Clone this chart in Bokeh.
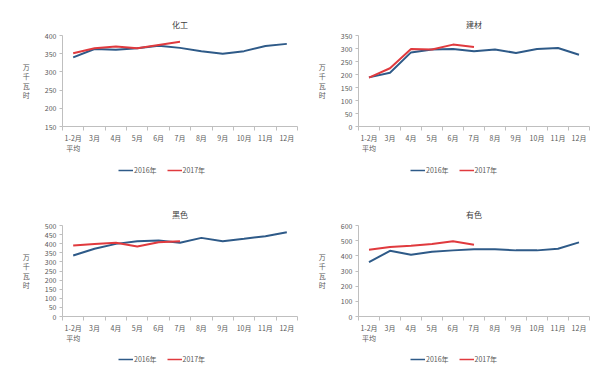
from bokeh.plotting import figure
from bokeh.layouts import gridplot
from bokeh.models import Legend, LegendItem, FixedTicker, Range1d
from bokeh.embed import file_html
from bokeh.resources import INLINE

months = ["1-2月\n平均", "3月", "4月", "5月", "6月", "7月", "8月", "9月", "10月", "11月", "12月"]
series_names = ["2016年", "2017年"]

chem_2016 = [340, 363, 361, 365, 372, 366, 357, 350, 357, 371, 377]
chem_2017 = [351, 365, 370, 365, 374, 383]
build_2016 = [189, 207, 285, 296, 298, 289, 296, 283, 298, 302, 276]
build_2017 = [188, 224, 298, 296, 315, 306]
ferrous_2016 = [335, 372, 399, 414, 418, 405, 432, 414, 427, 441, 463]
ferrous_2017 = [390, 399, 405, 385, 408, 414]
nonfer_2016 = [358, 433, 407, 427, 436, 444, 444, 436, 436, 447, 489]
nonfer_2017 = [440, 458, 467, 478, 496, 473]

panels = [
    ("化工", chem_2016, chem_2017, (150, 400), list(range(150, 401, 50))),
    ("建材", build_2016, build_2017, (0, 350), list(range(0, 351, 50))),
    ("黑色", ferrous_2016, ferrous_2017, (0, 500), list(range(0, 501, 50))),
    ("有色", nonfer_2016, nonfer_2017, (0, 600), list(range(0, 601, 100))),
]

FONT = "Noto Sans CJK SC"
TXT = "#595959"
AX = "#bfbfbf"
C16 = "#2e5a88"
C17 = "#e03a3e"

plots = []
legends = []
for i, (title, s16, s17, yr, yt) in enumerate(panels):
    left = 62 if i % 2 == 0 else 58
    fw = 235 if i % 2 == 0 else 231
    top = 35
    total_h = 160 if i < 2 else 159
    bottom = total_h - top - 91
    p = figure(frame_width=fw, frame_height=91, output_backend="svg", toolbar_location=None,
               x_range=Range1d(-0.5, 10.5), y_range=Range1d(*yr),
               min_border_left=left, min_border_right=300 - left - fw, min_border_top=top,
               min_border_bottom=bottom, title=title)
    p.title.align = "center"
    p.title.text_font = FONT
    p.title.text_font_size = "8px"
    p.title.text_font_style = "normal"
    p.title.text_color = "#404040"
    p.title.standoff = 12
    p.outline_line_color = None
    p.grid.visible = False

    xs = list(range(len(months)))
    p.line(xs, s16, line_color=C16, line_width=2)
    p.line(xs[:len(s17)], s17, line_color=C17, line_width=2)

    xa = p.xaxis[0]
    xa.ticker = FixedTicker(ticks=xs, minor_ticks=[x - 0.5 for x in range(len(months) + 1)])
    xa.major_label_overrides = {x: m for x, m in zip(xs, months)}
    xa.major_tick_line_color = None
    xa.major_tick_out = 0
    xa.major_tick_in = 0
    xa.minor_tick_line_color = AX
    xa.minor_tick_out = 4
    xa.minor_tick_in = 0
    xa.axis_line_color = AX
    xa.major_label_text_font = FONT
    xa.major_label_text_font_size = "7px"
    xa.major_label_text_color = TXT
    xa.major_label_text_line_height = 1.05
    xa.major_label_standoff = 2

    ya = p.yaxis[0]
    ya.ticker = FixedTicker(ticks=yt)
    ya.axis_line_color = AX
    ya.major_tick_line_color = AX
    ya.major_tick_out = 3
    ya.major_tick_in = 0
    ya.minor_tick_line_color = None
    ya.major_label_text_font = FONT
    ya.major_label_text_font_size = "7px"
    ya.major_label_text_color = TXT
    ya.major_label_standoff = 3
    ya.axis_label = "万\n千\n瓦\n时"
    ya.axis_label_orientation = "horizontal"
    ya.axis_label_text_font = FONT
    ya.axis_label_text_font_size = "7px"
    ya.axis_label_text_font_style = "normal"
    ya.axis_label_text_color = TXT
    ya.axis_label_text_line_height = 0.95
    ya.axis_label_standoff = 12
    plots.append(p)

    # legend strip below each panel (series drawn off-range, only the legend shows)
    lf = figure(width=300, height=30, output_backend="svg", toolbar_location=None,
                x_axis_type=None, y_axis_type=None, min_border=0,
                x_range=Range1d(-100, -99), y_range=Range1d(-100, -99))
    lf.outline_line_color = None
    lf.grid.visible = False
    e16 = lf.line(xs, s16, line_color=C16, line_width=1.5)
    e17 = lf.line(xs[:len(s17)], s17, line_color=C17, line_width=1.5)
    lx = 56 if i % 2 == 0 else 52
    legend = Legend(items=[LegendItem(label=series_names[0], renderers=[e16]),
                           LegendItem(label=series_names[1], renderers=[e17])],
                    orientation="horizontal", location=(lx, 15),
                    border_line_color=None, background_fill_alpha=0,
                    label_text_font=FONT, label_text_font_size="7px",
                    label_text_color=TXT, glyph_width=15, glyph_height=8,
                    label_standoff=1, spacing=10, padding=0, margin=0,
                    label_height=8)
    lf.add_layout(legend, "center")
    legends.append(lf)

grid = gridplot([[plots[0], plots[1]], [legends[0], legends[1]],
                 [plots[2], plots[3]], [legends[2], legends[3]]],
                toolbar_location=None)
open("out.html", "w").write(file_html(grid, INLINE))
